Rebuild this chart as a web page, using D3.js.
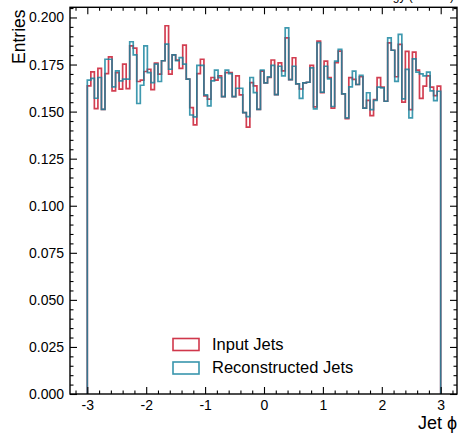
<!DOCTYPE html>
<html>
<head>
<meta charset="utf-8">
<script src="https://cdn.jsdelivr.net/npm/d3@7"></script>
<style>
  body { margin: 0; background: #fff; }
  svg { display: block; font-family: "Liberation Sans", Arial, sans-serif; }
</style>
</head>
<body>
<svg id="chart" width="460" height="435"></svg>
<script>
// ---- data ----
const phiRange = [-3, 3];
const nBins = 100;
const inputJets = [
  0.1637,0.1711,0.1516,0.1730,0.1512,0.1702,0.1791,0.1610,0.1707,0.1619,
  0.1752,0.1622,0.1849,0.1837,0.1660,0.1667,0.1713,0.1725,0.1617,0.1757,
  0.1699,0.1770,0.1956,0.1699,0.1801,0.1773,0.1730,0.1853,0.1672,0.1521,
  0.1429,0.1702,0.1778,0.1583,0.1566,0.1681,0.1667,0.1690,0.1580,0.1707,
  0.1707,0.1580,0.1690,0.1589,0.1495,0.1418,0.1654,0.1637,0.1512,0.1715,
  0.1653,0.1681,0.1774,0.1590,0.1759,0.1716,0.1892,0.1670,0.1786,0.1647,
  0.1620,0.1653,0.1656,0.1745,0.1525,0.1874,0.1600,0.1768,0.1680,0.1518,
  0.1760,0.1821,0.1594,0.1463,0.1680,0.1671,0.1644,0.1685,0.1518,0.1560,
  0.1479,0.1564,0.1680,0.1630,0.1555,0.1865,0.1826,0.1685,0.1857,0.1550,
  0.1820,0.1510,0.1816,0.1720,0.1570,0.1635,0.1690,0.1630,0.1585,0.1635
];
const recoJets = [
  0.1667,0.1677,0.1571,0.1681,0.1512,0.1778,0.1778,0.1631,0.1716,0.1663,
  0.1672,0.1672,0.1871,0.1801,0.1543,0.1640,0.1849,0.1707,0.1654,0.1752,
  0.1660,0.1770,0.1858,0.1725,0.1801,0.1770,0.1787,0.1752,0.1672,0.1482,
  0.1472,0.1746,0.1746,0.1589,0.1530,0.1663,0.1720,0.1680,0.1580,0.1720,
  0.1702,0.1580,0.1624,0.1624,0.1495,0.1473,0.1681,0.1601,0.1512,0.1720,
  0.1653,0.1684,0.1745,0.1590,0.1741,0.1690,0.1945,0.1670,0.1741,0.1647,
  0.1570,0.1653,0.1656,0.1732,0.1515,0.1866,0.1603,0.1741,0.1674,0.1527,
  0.1768,0.1830,0.1594,0.1467,0.1631,0.1715,0.1644,0.1692,0.1518,0.1600,
  0.1511,0.1560,0.1630,0.1626,0.1555,0.1892,0.1826,0.1661,0.1910,0.1568,
  0.1724,0.1467,0.1780,0.1710,0.1700,0.1690,0.1710,0.1610,0.1558,0.1608
];
const xTicks = [-3, -2, -1, 0, 1, 2, 3];
const yTicks = [0, 0.025, 0.05, 0.075, 0.1, 0.125, 0.15, 0.175, 0.2];
const seriesNames = ["Input Jets", "Reconstructed Jets"];
const seriesColors = ["#c8142b", "#15839d"];
const xLabel = "Jet \u03D5";
const yLabel = "Entries";
const topText = "Energy (13 TeV)";

// ---- layout ----
const L = 70, R = 457, T = 7.3, B = 394;
const svg = d3.select("#chart");
const x = d3.scaleLinear().domain([-3.2937, 3.2768]).range([L, R]);
const y = d3.scaleLinear().domain([0, 0.2054]).range([B, T]);

const binW = (phiRange[1] - phiRange[0]) / nBins;
const edges = d3.range(nBins + 1).map(i => phiRange[0] + i * binW);

function stepPoints(vals) {
  const pts = [[edges[0], 0]];
  vals.forEach((v, i) => pts.push([edges[i], v]));
  pts.push([edges[nBins], vals[nBins - 1]]);
  pts.push([edges[nBins], 0]);
  return pts;
}
const line = d3.line().x(d => x(d[0])).y(d => y(d[1])).curve(d3.curveStepAfter);

svg.append("defs").append("clipPath").attr("id", "plotclip")
  .append("rect").attr("x", L).attr("y", T).attr("width", R - L).attr("height", B - T);

const plot = svg.append("g").attr("clip-path", "url(#plotclip)");
[inputJets, recoJets].forEach((vals, k) => {
  plot.append("path")
    .attr("d", line(stepPoints(vals)))
    .attr("fill", "none")
    .attr("stroke", seriesColors[k])
    .attr("stroke-width", 1.7)
    .attr("stroke-opacity", 0.82)
    .attr("stroke-linejoin", "miter");
});

// ---- axes ----
const minorX = d3.range(-3.2, 3.21, 0.2).map(v => +v.toFixed(2)).filter(v => Math.abs(v - Math.round(v)) > 1e-6);
const minorY = d3.range(0, 0.2051, 0.005).map(v => +v.toFixed(3)).filter(v => !yTicks.some(t => Math.abs(t - v) < 1e-6));

function styleAxis(g) {
  g.select(".domain").remove();
  g.selectAll("line").attr("stroke", "#000").attr("stroke-width", 1.1);
  g.selectAll("text").attr("fill", "#000").attr("font-size", "14px")
    .attr("font-family", "'Liberation Sans', Arial, sans-serif");
}

// bottom
svg.append("g").attr("transform", `translate(0,${B})`)
  .call(d3.axisBottom(x).tickValues(xTicks).tickFormat(d => String(d)).tickSizeInner(-7).tickSizeOuter(0).tickPadding(6))
  .call(styleAxis);
svg.append("g").attr("transform", `translate(0,${B})`)
  .call(d3.axisBottom(x).tickValues(minorX).tickFormat("").tickSizeInner(-3.5).tickSizeOuter(0))
  .call(styleAxis);
// top
svg.append("g").attr("transform", `translate(0,${T})`)
  .call(d3.axisTop(x).tickValues(xTicks).tickFormat("").tickSizeInner(-7).tickSizeOuter(0))
  .call(styleAxis);
svg.append("g").attr("transform", `translate(0,${T})`)
  .call(d3.axisTop(x).tickValues(minorX).tickFormat("").tickSizeInner(-3.5).tickSizeOuter(0))
  .call(styleAxis);
// left
svg.append("g").attr("transform", `translate(${L},0)`)
  .call(d3.axisLeft(y).tickValues(yTicks).tickFormat(d3.format(".3f")).tickSizeInner(-7).tickSizeOuter(0).tickPadding(6))
  .call(styleAxis);
svg.append("g").attr("transform", `translate(${L},0)`)
  .call(d3.axisLeft(y).tickValues(minorY).tickFormat("").tickSizeInner(-3.5).tickSizeOuter(0))
  .call(styleAxis);
// right
svg.append("g").attr("transform", `translate(${R},0)`)
  .call(d3.axisRight(y).tickValues(yTicks).tickFormat("").tickSizeInner(-7).tickSizeOuter(0))
  .call(styleAxis);
svg.append("g").attr("transform", `translate(${R},0)`)
  .call(d3.axisRight(y).tickValues(minorY).tickFormat("").tickSizeInner(-3.5).tickSizeOuter(0))
  .call(styleAxis);

// frame
svg.append("rect").attr("x", L).attr("y", T).attr("width", R - L).attr("height", B - T)
  .attr("fill", "none").attr("stroke", "#000").attr("stroke-width", 1.4);

// labels
svg.append("text").attr("transform", `translate(25,9.5) rotate(-90)`)
  .attr("text-anchor", "end").attr("font-size", "17.5px").attr("fill", "#000").text(yLabel);
svg.append("text").attr("x", R).attr("y", 429).attr("text-anchor", "end")
  .attr("font-size", "18px").attr("fill", "#000").text(xLabel);
// header text, cut off at the top edge as in the reference
svg.append("text").attr("x", 454).attr("y", 0).attr("text-anchor", "end")
  .attr("font-size", "12px").attr("fill", "#000").text(topText);

// legend
const legY = [338.5, 362];
seriesNames.forEach((name, k) => {
  svg.append("rect").attr("x", 173).attr("y", legY[k]).attr("width", 26).attr("height", 12)
    .attr("fill", "none").attr("stroke", seriesColors[k]).attr("stroke-width", 1.6).attr("stroke-opacity", 0.85);
  svg.append("text").attr("x", 212).attr("y", legY[k] + 11).attr("font-size", "16.5px")
    .attr("fill", "#000").text(name);
});
</script>
</body>
</html>
